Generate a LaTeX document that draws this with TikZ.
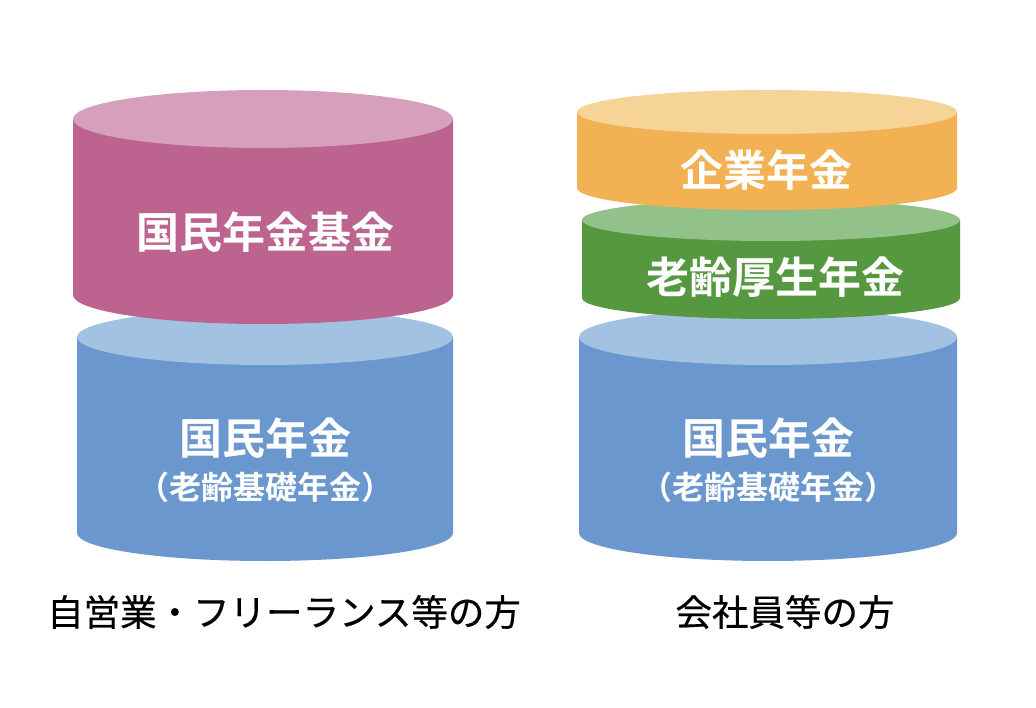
\documentclass[tikz,border=0pt]{standalone}
\usepackage{fontspec}
\newfontfamily\jp{Noto Sans CJK JP}[BoldFont=* Bold]
\newfontfamily\jpm{Noto Sans CJK JP}[FakeBold=0.5]
\definecolor{pinkS}{HTML}{BC6390}
\definecolor{pinkT}{HTML}{D6A0BD}
\definecolor{blueS}{HTML}{6A98CE}
\definecolor{blueT}{HTML}{A3C1E1}
\definecolor{orS}{HTML}{F2B254}
\definecolor{orT}{HTML}{F6D396}
\definecolor{grS}{HTML}{55983F}
\definecolor{grT}{HTML}{93C18A}
\newcommand\mycyl[7]{% cx, ytop, ybot, rx, ry, side, top
  \fill[#6] ({#1-#4},#2) -- ({#1-#4},#3) arc[start angle=180, end angle=0, x radius=#4, y radius=#5] -- ({#1+#4},#2) -- cycle;
  \fill[#7] (#1,#2) ellipse[x radius=#4, y radius=#5];
}
\tikzset{
  big/.style={text=white, font=\jp\bfseries\fontsize{43}{46}\selectfont, inner sep=0pt},
  small/.style={text=white, font=\jp\bfseries\fontsize{32}{35}\selectfont, inner sep=0pt},
  lab/.style={text=black, font=\jpm\fontsize{36.5}{40}\selectfont, inner sep=0pt}
}
\begin{document}
\begin{tikzpicture}[x=1pt, y=-1pt]
\useasboundingbox[fill=white] (0,0) rectangle (1036,708);
% left column
\mycyl{265}{337}{533}{188}{28}{blueS}{blueT}
\mycyl{263}{119}{295}{190}{29}{pinkS}{pinkT}
% right column
\mycyl{768}{337}{533}{189}{28}{blueS}{blueT}
\mycyl{771}{220}{298}{189}{21}{grS}{grT}
\mycyl{767}{112}{188}{190}{22}{orS}{orT}
% texts
\node[big] (kikin) at (265,232) {国民年金基金};
\node[big] (kokuL) at (265,438) {国民年金};
\node[small] (kisoL) at (265,487) {（老齢基礎年金）};
\node[big] (kigyo) at (766,170) {企業年金};
\node[big] (kosei) at (775,277) {老齢厚生年金};
\node[big] (kokuR) at (768,438) {国民年金};
\node[small] (kisoR) at (768,487) {（老齢基礎年金）};
\node[lab] (labL) at (284,612) {自営業・フリーランス等の方};
\node[lab] (labR) at (785,612) {会社員等の方};
\end{tikzpicture}
\end{document}
